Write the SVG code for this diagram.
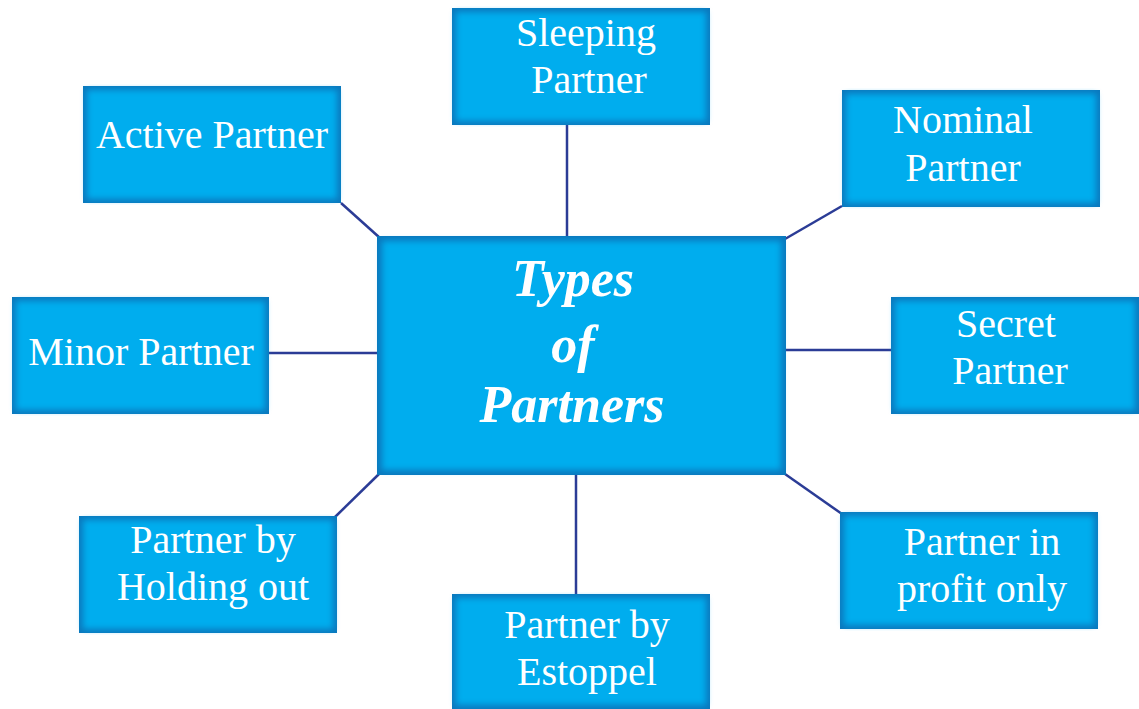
<svg xmlns="http://www.w3.org/2000/svg" width="1139" height="709" viewBox="0 0 1139 709">
<defs>
<filter id="soft" x="-5%" y="-5%" width="110%" height="110%"><feGaussianBlur stdDeviation="3"/></filter>
</defs>
<style>
.edge{fill:#0a78bd}
.face{fill:#00adee;filter:url(#soft)}
.lbl{font-family:"Liberation Serif",serif;font-size:40px;fill:#fff;text-anchor:middle}
.title{font-family:"Liberation Serif",serif;font-size:52px;font-weight:bold;font-style:italic;fill:#fff;text-anchor:middle}
.con{stroke:#2b3c96;stroke-width:2.5;fill:none}
</style>
<rect width="1139" height="709" fill="#fff"/>
<g id="connectors">
<line class="con" x1="567" y1="125" x2="567" y2="237"/>
<line class="con" x1="341" y1="203" x2="380" y2="238"/>
<line class="con" x1="842" y1="206" x2="785" y2="239"/>
<line class="con" x1="269" y1="353" x2="378" y2="353"/>
<line class="con" x1="785" y1="350" x2="891" y2="350"/>
<line class="con" x1="335" y1="517" x2="379" y2="474"/>
<line class="con" x1="576" y1="474" x2="576" y2="595"/>
<line class="con" x1="785" y1="474" x2="842" y2="514"/>
</g>
<g id="center">
<rect class="edge" x="377" y="236" width="409" height="239"/>
<rect class="face" x="382" y="241" width="399" height="229"/>
<text class="title" x="573" y="296">Types</text>
<text class="title" x="573" y="362">of</text>
<text class="title" x="572" y="422">Partners</text>
</g>
<g id="sleeping">
<rect class="edge" x="452" y="8" width="258" height="117"/>
<rect class="face" x="456" y="12" width="250" height="109"/>
<text class="lbl" x="586" y="46">Sleeping</text>
<text class="lbl" x="589" y="93">Partner</text>
</g>
<g id="active">
<rect class="edge" x="83" y="86" width="258" height="117"/>
<rect class="face" x="87" y="90" width="250" height="109"/>
<text class="lbl" x="212" y="148">Active Partner</text>
</g>
<g id="nominal">
<rect class="edge" x="842" y="90" width="258" height="117"/>
<rect class="face" x="846" y="94" width="250" height="109"/>
<text class="lbl" x="963" y="133">Nominal</text>
<text class="lbl" x="963" y="181">Partner</text>
</g>
<g id="minor">
<rect class="edge" x="12" y="297" width="257" height="117"/>
<rect class="face" x="16" y="301" width="249" height="109"/>
<text class="lbl" x="141" y="365">Minor Partner</text>
</g>
<g id="secret">
<rect class="edge" x="891" y="297" width="248" height="117"/>
<rect class="face" x="895" y="301" width="240" height="109"/>
<text class="lbl" x="1006" y="337">Secret</text>
<text class="lbl" x="1010" y="384">Partner</text>
</g>
<g id="holding">
<rect class="edge" x="79" y="516" width="258" height="117"/>
<rect class="face" x="83" y="520" width="250" height="109"/>
<text class="lbl" x="213" y="553">Partner by</text>
<text class="lbl" x="213" y="600">Holding out</text>
</g>
<g id="estoppel">
<rect class="edge" x="452" y="594" width="258" height="115"/>
<rect class="face" x="456" y="598" width="250" height="107"/>
<text class="lbl" x="587" y="638">Partner by</text>
<text class="lbl" x="587" y="685">Estoppel</text>
</g>
<g id="profit">
<rect class="edge" x="840" y="512" width="258" height="117"/>
<rect class="face" x="844" y="516" width="250" height="109"/>
<text class="lbl" x="982" y="555">Partner in</text>
<text class="lbl" x="982" y="602">profit only</text>
</g>
</svg>
